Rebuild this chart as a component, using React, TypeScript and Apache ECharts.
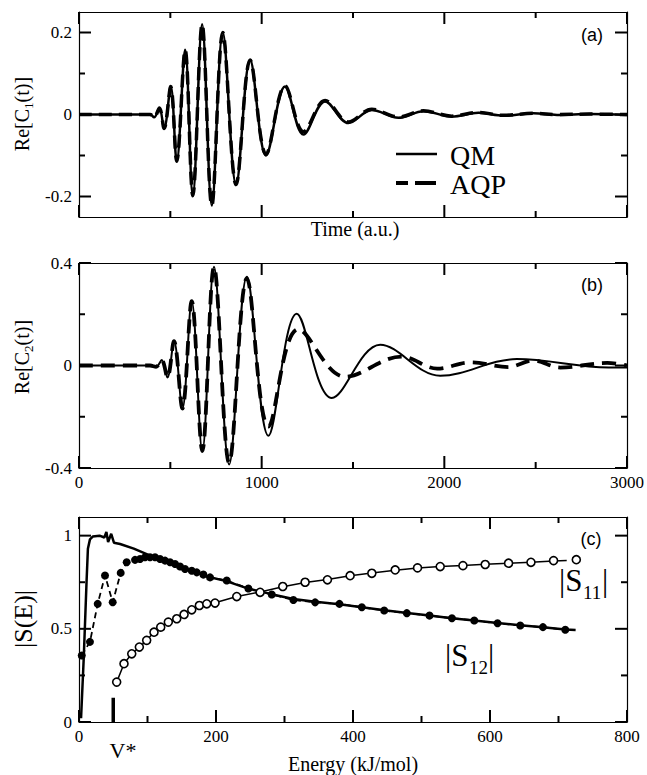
import React, { useEffect, useRef } from "react";
import * as echarts from "echarts";

const SERIF = "Liberation Serif";
const SANS = "Liberation Sans";

// ---------- Panel (a): Re[C1(t)] ----------
const qmA: number[][] = [
  [0, 0], [389, 0], [411, -0.007], [440, 0.016], [466, -0.034], [502, 0.068], [535, -0.114],
  [581, 0.158], [623, -0.198], [674, 0.22], [727, -0.222], [787, 0.2], [860, -0.171],
  [937, 0.133], [1024, -0.1], [1128, 0.068], [1229, -0.049], [1347, 0.032], [1475, -0.021],
  [1603, 0.011], [1749, -0.008], [1886, 0.008], [2041, -0.005], [2187, 0.004], [2324, -0.003],
  [2488, 0.003], [2617, -0.001], [2799, 0.001], [3000, -0.001],
];
const aqpA: number[][] = [
  [0, 0], [389, 0], [411, -0.007], [440, 0.016], [466, -0.034], [502, 0.068], [535, -0.114],
  [581, 0.158], [623, -0.198], [674, 0.22], [727, -0.222], [787, 0.2], [860, -0.171],
  [937, 0.133], [1024, -0.097], [1128, 0.07], [1229, -0.042], [1347, 0.034], [1475, -0.018],
  [1603, 0.013], [1749, -0.006], [1886, 0.009], [2041, -0.004], [2187, 0.005], [2324, -0.002],
  [2488, 0.003], [2617, 0], [2799, 0.001], [3000, 0],
];

// ---------- Panel (b): Re[C2(t)] ----------
const qmB: number[][] = [
  [0, 0], [389, 0], [422, -0.005], [453, 0.021], [484, -0.047], [520, 0.095], [566, -0.168],
  [617, 0.251], [675, -0.334], [739, 0.385], [822, -0.386], [919, 0.346], [1037, -0.274],
  [1192, 0.202], [1384, -0.127], [1649, 0.081], [1977, -0.04], [2397, 0.025], [2900, -0.008],
  [3000, -0.008],
];
const aqpB: number[][] = [
  [0, 0], [389, 0], [422, -0.005], [453, 0.021], [484, -0.047], [520, 0.095], [566, -0.168],
  [617, 0.251], [675, -0.334], [739, 0.385], [822, -0.38], [919, 0.34], [1037, -0.238],
  [1201, 0.142], [1457, -0.044], [1765, 0.035], [1961, -0.012], [2142, 0.012], [2350, -0.006],
  [2487, 0.02], [2635, -0.008], [2892, 0.01], [3000, 0],
];

// ---------- Panel (c): |S(E)| ----------
const qmS12: number[][] = [
  [3, 0.02], [7, 0.35], [11, 0.75], [13, 0.93], [16, 0.98], [20, 0.995], [30, 1.0], [37, 0.99],
  [40, 1.02], [42.5, 0.965], [47, 1.01], [51, 0.962], [60, 0.955], [80, 0.93], [104, 0.893],
  [120, 0.87], [140, 0.848], [160, 0.815], [190, 0.778], [215, 0.756], [247, 0.716],
  [281, 0.686], [313, 0.66], [345, 0.645], [380, 0.632], [413, 0.616], [446, 0.6], [479, 0.585],
  [512, 0.571], [544, 0.557], [577, 0.545], [611, 0.531], [644, 0.519], [677, 0.508],
  [710, 0.496], [725, 0.494],
];
const aqpS12: number[][] = [
  [4, 0.357], [16, 0.43], [27.3, 0.634], [38, 0.786], [49.2, 0.643], [60.9, 0.8], [69.6, 0.857],
  [81.8, 0.87], [89.1, 0.875], [96.4, 0.884], [103.7, 0.884], [111, 0.884], [118.3, 0.875],
  [125.6, 0.866], [132.9, 0.857], [140.2, 0.848], [147.5, 0.834], [154.8, 0.821], [164.6, 0.812],
  [171.9, 0.803], [181.6, 0.791], [191.3, 0.776], [215.7, 0.759], [247.3, 0.716], [281.4, 0.684],
  [313, 0.655], [344.7, 0.642], [380.2, 0.634], [412.9, 0.616], [445.5, 0.598], [478.6, 0.584],
  [511.7, 0.571], [544.4, 0.557], [577, 0.545], [611, 0.53], [644.2, 0.518], [677.3, 0.509],
  [709.9, 0.495],
];
const qmS11: number[][] = [
  [55, 0.214], [65.7, 0.313], [77, 0.366], [88.1, 0.402], [98.8, 0.438], [109.5, 0.482],
  [119.3, 0.509], [130.4, 0.536], [142.7, 0.556], [153.4, 0.578], [164.6, 0.6], [175.7, 0.62],
  [186.5, 0.632], [198.6, 0.64], [230.3, 0.673], [264.4, 0.698], [297.5, 0.726], [330.1, 0.748],
  [362.7, 0.765], [395.8, 0.785], [427.5, 0.799], [461.6, 0.814], [494.2, 0.826], [527.3, 0.834],
  [560.5, 0.84], [593, 0.846], [627.1, 0.852], [659.8, 0.857], [692.8, 0.864], [712, 0.866],
];
const aqpS11: number[][] = [
  [55, 0.214], [65.7, 0.313], [77, 0.366], [88.1, 0.402], [98.8, 0.438], [109.5, 0.482],
  [119.3, 0.509], [130.4, 0.536], [142.7, 0.554], [153.4, 0.577], [164.6, 0.602], [175.7, 0.625],
  [186.5, 0.634], [198.6, 0.638], [230.3, 0.673], [264.4, 0.696], [297.5, 0.727], [330.1, 0.75],
  [362.7, 0.763], [395.8, 0.785], [427.5, 0.798], [461.6, 0.816], [494.2, 0.827], [527.3, 0.834],
  [560.5, 0.839], [593, 0.845], [627.1, 0.852], [659.8, 0.857], [692.8, 0.866], [726, 0.871],
];
const vStarBar: number[][] = [[50, 0], [50, 0.13]];

// ---------- axis ranges and tick values ----------
const xRangeT = [0, 3000];
const xRangeE = [0, 800];
const yRangeA = [-0.25, 0.25];
const yRangeB = [-0.4, 0.4];
const yRangeC = [0, 1.1];
const xMajorT = [0, 1000, 2000, 3000];
const xMinorT = [500, 1500, 2500];
const xMajorE = [0, 200, 400, 600, 800];
const xMinorE = [100, 300, 500, 700];
const yMajorA = [-0.2, 0, 0.2];
const yMinorA = [-0.1, 0.1];
const yMajorB = [-0.4, 0, 0.4];
const yMinorB = [-0.2, 0.2];
const yMajorC = [0, 0.5, 1];
const yMinorC = [0.25, 0.75];

const GRID_W = 548;
const GRID_H = 205;
const MAJOR_LEN = 12;
const MINOR_LEN = 6;
const TICK_W = 2;

const labelStyle = { fontSize: 17, fontFamily: SERIF, color: "#000" };

function xPair(gi: number, range: number[], interval: number, labels: boolean) {
  const base = {
    type: "value",
    gridIndex: gi,
    min: range[0],
    max: range[1],
    interval,
    splitLine: { show: false },
    minorSplitLine: { show: false },
    axisLine: { show: true, onZero: false, lineStyle: { color: "#000", width: 1.2 } },
    axisTick: { show: false },
  };
  return [
    {
      ...base,
      position: "bottom",
      axisLabel: { show: labels, margin: 6, ...labelStyle, formatter: (v: number) => String(v) },
    },
    { ...base, position: "top", axisLabel: { show: false } },
  ];
}

function yPair(gi: number, range: number[], major: number[]) {
  const base = {
    type: "value",
    gridIndex: gi,
    min: range[0],
    max: range[1],
    splitLine: { show: false },
    axisLine: { show: true, onZero: false, lineStyle: { color: "#000", width: 1.2 } },
    axisTick: { show: false },
  };
  return [
    {
      ...base,
      position: "left",
      axisLabel: {
        show: true,
        customValues: major,
        margin: 7,
        ...labelStyle,
        formatter: (v: number) => (Math.abs(v) < 1e-9 ? "0" : String(v)),
      },
    },
    { ...base, position: "right", axisLabel: { show: false } },
  ];
}

// Inward ticks on all four sides, each drawn as a short line series through the axes' scales.
function tickSeries(xi: number, yi: number, xr: number[], yr: number[], xMaj: number[], xMin: number[], yMaj: number[], yMin: number[]) {
  const out: any[] = [];
  const dy = (len: number) => (len * (yr[1] - yr[0])) / GRID_H;
  const dx = (len: number) => (len * (xr[1] - xr[0])) / GRID_W;
  const seg = (data: number[][]) =>
    out.push({
      type: "line",
      xAxisIndex: xi,
      yAxisIndex: yi,
      data,
      symbol: "none",
      silent: true,
      clip: false,
      z: 10,
      lineStyle: { color: "#000", width: TICK_W },
    });
  const xs: number[][] = [...xMaj.map((v) => [v, MAJOR_LEN]), ...xMin.map((v) => [v, MINOR_LEN])];
  xs.forEach(([v, len]) => {
    seg([[v, yr[0]], [v, yr[0] + dy(len)]]);
    seg([[v, yr[1]], [v, yr[1] - dy(len)]]);
  });
  const ys: number[][] = [...yMaj.map((v) => [v, MAJOR_LEN]), ...yMin.map((v) => [v, MINOR_LEN])];
  ys.forEach(([v, len]) => {
    seg([[xr[0], v], [xr[0] + dx(len), v]]);
    seg([[xr[1], v], [xr[1] - dx(len), v]]);
  });
  return out;
}

function txt(x: number, y: number, text: string, size: number, family = SERIF, extra: any = {}) {
  return {
    type: "text",
    x,
    y,
    rotation: extra.rotation || 0,
    style: {
      text,
      fontSize: size,
      fontFamily: family,
      fill: "#000",
      align: extra.align || "center",
      verticalAlign: extra.valign || "middle",
      textAlign: extra.align || "center",
      textVerticalAlign: extra.valign || "middle",
    },
  };
}

function subText(x: number, y: number, main1: string, sub: string, main2: string, size: number, subSize: number, rot = 0) {
  return {
    type: "text",
    x,
    y,
    rotation: rot,
    style: {
      text: `{n|${main1}}{s|${sub}}{n|${main2}}`,
      fill: "#000",
      fontFamily: SERIF,
      fontSize: size,
      align: "center",
      verticalAlign: "middle",
      textAlign: "center",
      textVerticalAlign: "middle",
      rich: {
        n: { fontSize: size, fontFamily: SERIF, fill: "#000", lineHeight: size * 1.3, verticalAlign: "middle" },
        s: { fontSize: subSize, fontFamily: SERIF, fill: "#000", lineHeight: subSize, verticalAlign: "bottom" },
      },
    },
  };
}

function absLabel(x: number, baseY: number, sub: string) {
  return {
    type: "group",
    x,
    y: baseY,
    children: [
      txt(0, 0, "|S", 31, SERIF, { align: "left", valign: "bottom" }),
      txt(24, 6, sub, 19, SERIF, { align: "left", valign: "bottom" }),
      txt(43, 0, "|", 31, SERIF, { align: "left", valign: "bottom" }),
    ],
  };
}

const blackLine = (width: number, type: any = "solid") => ({ color: "#000", width, type });

const graphicEls: any[] = [
  subText(22, 114, "Re[C", "1", "(t)]", 20, 13, Math.PI / 2),
  subText(22, 357, "Re[C", "2", "(t)]", 20, 13, Math.PI / 2),
  txt(23, 619, "|S(E)|", 26, SERIF, { rotation: Math.PI / 2 }),
  txt(355, 229, "Time (a.u.)", 20),
  txt(353, 764, "Energy (kJ/mol)", 20),
  txt(123, 750, "V*", 22),
  txt(592, 35, "(a)", 18, SANS),
  txt(592, 285, "(b)", 18, SANS),
  txt(591, 539, "(c)", 18, SANS),
  { type: "line", shape: { x1: 396, y1: 154, x2: 437, y2: 154 }, style: { stroke: "#000", lineWidth: 2.5 } },
  { type: "line", shape: { x1: 396, y1: 183, x2: 408, y2: 183 }, style: { stroke: "#000", lineWidth: 4 } },
  { type: "line", shape: { x1: 415, y1: 183, x2: 436, y2: 183 }, style: { stroke: "#000", lineWidth: 4 } },
  txt(450, 155, "QM", 28, SERIF, { align: "left" }),
  txt(450, 184, "AQP", 28, SERIF, { align: "left" }),
  absLabel(559, 596, "11"),
  absLabel(445, 671, "12"),
];

export default function App() {
  const ref = useRef<HTMLDivElement>(null);
  useEffect(() => {
    const chart = echarts.init(ref.current!, null, { renderer: "svg" });
    const option: any = {
      animation: false,
      backgroundColor: "#fff",
      textStyle: { fontFamily: SERIF, color: "#000" },
      grid: [
        { left: 79, top: 12, width: GRID_W, height: GRID_H, outerBoundsMode: "none" },
        { left: 79, top: 263, width: GRID_W, height: GRID_H, outerBoundsMode: "none" },
        { left: 79, top: 517, width: GRID_W, height: GRID_H, outerBoundsMode: "none" },
      ],
      xAxis: [...xPair(0, xRangeT, 1000, false), ...xPair(1, xRangeT, 1000, true), ...xPair(2, xRangeE, 200, true)],
      yAxis: [...yPair(0, yRangeA, yMajorA), ...yPair(1, yRangeB, yMajorB), ...yPair(2, yRangeC, yMajorC)],
      series: [
        { type: "line", xAxisIndex: 0, yAxisIndex: 0, data: qmA, symbol: "none", smooth: 0.36, lineStyle: blackLine(2.5) },
        { type: "line", xAxisIndex: 0, yAxisIndex: 0, data: aqpA, symbol: "none", smooth: 0.36, lineStyle: blackLine(3.5, [13, 7]) },
        { type: "line", xAxisIndex: 2, yAxisIndex: 2, data: qmB, symbol: "none", smooth: 0.36, lineStyle: blackLine(2) },
        { type: "line", xAxisIndex: 2, yAxisIndex: 2, data: aqpB, symbol: "none", smooth: 0.36, lineStyle: blackLine(3.8, [14, 8]) },
        { type: "line", xAxisIndex: 4, yAxisIndex: 4, data: qmS12, symbol: "none", lineStyle: blackLine(2.5) },
        {
          type: "line", xAxisIndex: 4, yAxisIndex: 4, data: aqpS12, symbol: "circle", symbolSize: 8,
          showSymbol: true, itemStyle: { color: "#000" }, lineStyle: blackLine(1.8, [6, 4]), z: 4,
        },
        { type: "line", xAxisIndex: 4, yAxisIndex: 4, data: qmS11, symbol: "none", lineStyle: blackLine(1.5) },
        {
          type: "scatter", xAxisIndex: 4, yAxisIndex: 4, data: aqpS11, symbol: "circle", symbolSize: 8,
          itemStyle: { color: "#fff", borderColor: "#000", borderWidth: 1.6, opacity: 1 }, z: 5,
        },
        { type: "line", xAxisIndex: 4, yAxisIndex: 4, data: vStarBar, symbol: "none", lineStyle: blackLine(3.5) },
        ...tickSeries(0, 0, xRangeT, yRangeA, xMajorT, xMinorT, yMajorA, yMinorA),
        ...tickSeries(2, 2, xRangeT, yRangeB, xMajorT, xMinorT, yMajorB, yMinorB),
        ...tickSeries(4, 4, xRangeE, yRangeC, xMajorE, xMinorE, yMajorC, yMinorC),
      ],
      graphic: graphicEls,
    };
    chart.setOption(option);
    return () => chart.dispose();
  }, []);
  return (
    <div
      ref={ref}
      style={{ position: "absolute", left: 0, top: 0, width: 647, height: 775, background: "#fff" }}
    />
  );
}
